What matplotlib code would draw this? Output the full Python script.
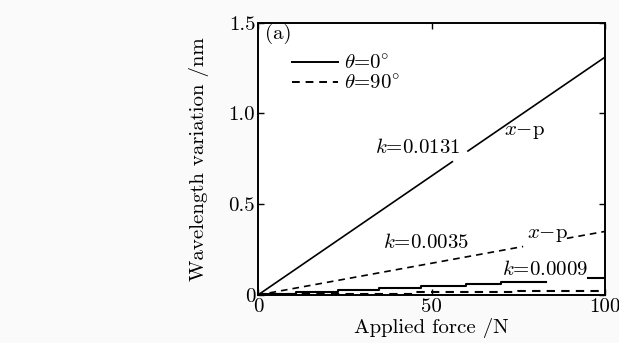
import numpy as np
import matplotlib
matplotlib.use("Agg")
import matplotlib.pyplot as plt
from matplotlib.ticker import FixedLocator, FixedFormatter
from matplotlib.lines import Line2D

plt.rcParams['font.family'] = ['cmr10', 'DejaVu Serif']
plt.rcParams['mathtext.fontset'] = 'cm'
plt.rcParams['axes.unicode_minus'] = False
plt.rcParams['axes.formatter.use_mathtext'] = True

# Data
xp0_force = [0, 56, np.nan, 60.5, 100]
xp0_vals = [0, 0.734, np.nan, 0.793, 1.31]

xp90_force = [0, 76.4, np.nan, 89, 100]
xp90_vals = [0, 0.267, np.nan, 0.312, 0.35]

step0_force = [0, 11, 23, 35, 47, 60, 70, 83, 83, 95, 100]
step0_vals = [0.004, 0.016, 0.028, 0.04, 0.052, 0.063, 0.072, 0.072, np.nan, 0.094, 0.094]

step90_force = [0, 12, 45, 75, 100]
step90_vals = [0.003, 0.007, 0.015, 0.021, 0.021]

xticks = [0, 50, 100]
xticklabels = ['0', '50', '100']
yticks = [0, 0.5, 1.0, 1.5]
yticklabels = ['0', '0.5', '1.0', '1.5']

bg = '#fafafa'
fig = plt.figure(figsize=(6.19, 3.43), dpi=100, facecolor=bg)
ax = fig.add_axes([0.4168, 0.140, 0.5606, 0.794])
ax.set_facecolor('white')

dash = (0, (4, 3))
ax.plot(xp0_force, xp0_vals, color='black', lw=1.2)
ax.plot(xp90_force, xp90_vals, color='black', lw=1.2, linestyle=dash)
ax.plot(step0_force, step0_vals, color='black', lw=1.5, drawstyle='steps-post')
ax.plot(step90_force, step90_vals, color='black', lw=1.5, drawstyle='steps-post', linestyle=dash)

ax.set_xlim(0, 100)
ax.set_ylim(0, 1.5)
ax.xaxis.set_major_locator(FixedLocator(xticks))
ax.xaxis.set_major_formatter(FixedFormatter(xticklabels))
ax.yaxis.set_major_locator(FixedLocator(yticks))
ax.yaxis.set_major_formatter(FixedFormatter(yticklabels))
ax.tick_params(direction='in', top=True, right=True, length=4, width=1,
               labelsize=15, pad=2)
for s in ax.spines.values():
    s.set_linewidth(1.4)

ax.set_xlabel('Applied force /N', fontsize=15, labelpad=2)
ax.set_ylabel('Wavelength variation /nm', fontsize=15, labelpad=14)

fs = 15
ax.text(2, 1.44, '(a)', fontsize=fs, va='center', ha='left')
ax.text(58.3, 0.81, r'$k$=0.0131', fontsize=fs, va='center', ha='right')
ax.text(71, 0.90, r'$x$$-$p', fontsize=fs, va='center', ha='left')
ax.text(36, 0.287, r'$k$=0.0035', fontsize=fs, va='center', ha='left')
ax.text(77.6, 0.33, r'$x$$-$p', fontsize=fs, va='center', ha='left')
ax.text(70.4, 0.138, r'$k$=0.0009', fontsize=fs, va='center', ha='left')

handles = [Line2D([], [], color='black', lw=1.4),
           Line2D([], [], color='black', lw=1.4, linestyle=dash)]
ax.legend(handles, [r'$\theta$=0$\!^\circ$', r'$\theta$=90$\!^\circ$'], loc='upper left',
          bbox_to_anchor=(0.098, 0.885), frameon=False, fontsize=fs,
          handlelength=2.2, handletextpad=0.3, labelspacing=0.05,
          borderaxespad=0, borderpad=0)

fig.savefig('out.png', dpi=100, facecolor=bg)
